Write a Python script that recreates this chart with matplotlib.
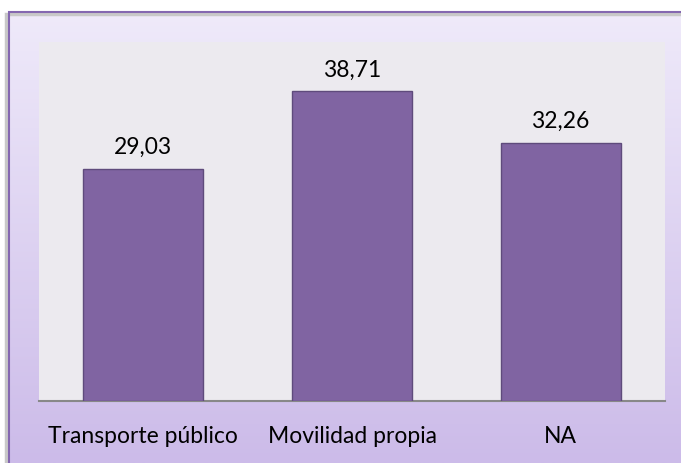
import matplotlib.pyplot as plt
import numpy as np
from matplotlib.patches import Rectangle
from matplotlib.colors import LinearSegmentedColormap

categories = ['Transporte público', 'Movilidad propia', 'NA']
values = [29.03, 38.71, 32.26]

plt.rcParams['font.family'] = ['Lato', 'DejaVu Sans']

W, H = 681, 463
fig = plt.figure(figsize=(W / 100, H / 100), dpi=100)
fig.patch.set_facecolor('white')

# lavender gradient background inside the frame
x0, y0 = 9 / W, 1 - 12 / H
bg = fig.add_axes([x0, 0, 1 - x0, y0])
bg.set_axis_off()
cmap = LinearSegmentedColormap.from_list('lav', ['#CCBBE9', '#EFEAFA'])
bg.imshow(np.linspace(1, 0, 256).reshape(-1, 1), aspect='auto', cmap=cmap,
          extent=[0, 1, 0, 1], vmin=0, vmax=1)
bg.set_xlim(0, 1)
bg.set_ylim(0, 1)

# shadow + frame
fig.patches.append(Rectangle((x0 - 0.004, -0.02), 1.1, y0 + 0.02 - 0.004,
                             transform=fig.transFigure, fill=False,
                             edgecolor='#C8C8C8', linewidth=2.5, zorder=1))
fig.patches.append(Rectangle((x0, -0.02), 1.1, y0 + 0.02,
                             transform=fig.transFigure, fill=False,
                             edgecolor='#8467B0', linewidth=1.5, zorder=2))

ax = fig.add_axes([39 / W, (H - 401) / H, 626 / W, (401 - 42) / H])
ax.set_facecolor('#ECEAEF')
x = np.arange(len(categories))
bars = ax.bar(x, values, width=0.575, color='#8064A2', edgecolor='#5F4B7C',
              linewidth=1.0, zorder=3)
ax.bar_label(bars, labels=[f'{v:.2f}'.replace('.', ',') for v in values],
             padding=8, fontsize=16.5, color='black')

ax.set_xlim(-0.5, len(categories) - 0.5)
ax.set_ylim(0, 44.9)
ax.set_xticks(x)
ax.set_xticklabels(categories, fontsize=16.5)
ax.tick_params(axis='x', length=0, pad=18)
ax.set_yticks([])
for s in ['top', 'right', 'left']:
    ax.spines[s].set_visible(False)
ax.spines['bottom'].set_color('#888888')
ax.spines['bottom'].set_linewidth(1.5)

fig.savefig('out.png', dpi=100)
